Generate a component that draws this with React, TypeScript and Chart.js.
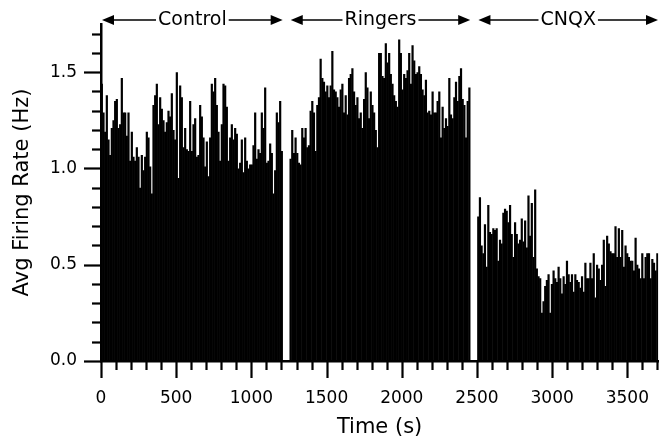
import React, { useEffect, useRef } from 'react';
import { Chart, registerables } from 'chart.js';

Chart.register(...registerables);

// Experimental phases (time in seconds)
const phaseNames = ['Control', 'Ringers', 'CNQX'];
const phaseStart = [0, 1255, 2503];
const phaseEnd = [1208, 2455, 3705];

// Average firing rate (Hz) per time bin
const controlRates = [
  1.44, 1.29, 1.19, 1.38, 1.15, 1.07, 1.21, 1.25, 1.35, 1.36, 1.21, 1.23, 1.47, 1.29, 1.29, 1.17,
  1.29, 1.04, 1.19, 1.06, 1.04, 1.11, 1.06, 0.90, 1.07, 0.99, 1.06, 1.19, 1.16, 1.01, 0.87, 1.33,
  1.38, 1.44, 1.23, 1.37, 1.31, 1.25, 1.19, 1.24, 1.30, 1.27, 1.39, 1.20, 1.15, 1.50, 0.95, 1.43,
  1.37, 1.11, 1.21, 1.10, 1.09, 1.35, 1.09, 1.23,
  1.26, 1.06, 1.07, 1.33, 1.27, 1.16, 1.01, 1.14, 0.96, 1.16, 1.44, 1.40, 1.47, 1.33, 1.19, 1.04,
  1.23, 1.44, 1.43, 1.32, 1.04, 1.16, 1.23, 1.15, 1.21, 1.18, 1.00, 1.03, 1.15, 0.98, 1.16, 1.04,
  1.00, 1.02, 1.02, 1.12, 1.29, 1.05, 1.10, 1.08, 1.29, 1.21, 1.42, 1.03, 1.04, 1.13, 1.08, 0.87,
  0.99, 1.29, 1.24, 1.35, 1.09,
];
const ringersRates = [
  1.05, 1.20, 1.08, 1.16, 1.08, 1.03, 1.02, 1.21, 1.16, 1.21, 1.11, 1.12, 1.30, 1.35, 1.29, 1.09,
  1.33, 1.37, 1.57, 1.47, 1.45, 1.40, 1.43, 1.37, 1.43, 1.61, 1.41, 1.40, 1.37, 1.32, 1.41, 1.44,
  1.29, 1.38, 1.28, 1.47, 1.49, 1.52, 1.40, 1.33, 1.37, 1.26, 1.29, 1.21, 1.36, 1.50, 1.42, 1.26,
  1.40, 1.33, 1.29, 1.20, 1.11, 1.60,
  1.60, 1.48, 1.47, 1.65, 1.55, 1.60, 1.49, 1.44, 1.38, 1.35, 1.32, 1.67, 1.60, 1.41, 1.49, 1.47,
  1.51, 1.60, 1.44, 1.64, 1.56, 1.49, 1.50, 1.53, 1.49, 1.41, 1.38, 1.46, 1.29, 1.30, 1.28, 1.40,
  1.29, 1.29, 1.35, 1.40, 1.16, 1.32, 1.21, 1.26, 1.22, 1.47, 1.28, 1.26, 1.37, 1.45, 1.35, 1.48,
  1.52, 1.36, 1.33, 1.16, 1.35, 1.42,
];
const cnqxRates = [
  0.75, 0.85, 0.60, 0.56, 0.71, 0.49, 0.81, 0.67, 0.66, 0.69, 0.68, 0.69, 0.52, 0.63, 0.61, 0.77,
  0.79, 0.78, 0.72, 0.81, 0.66, 0.54, 0.72, 0.66, 0.61, 0.63, 0.74, 0.62, 0.73, 0.59, 0.86, 0.65,
  0.82, 0.54, 0.89, 0.48, 0.44, 0.43, 0.25, 0.31, 0.39, 0.42, 0.45, 0.25, 0.40, 0.47, 0.43, 0.41,
  0.49, 0.43, 0.35, 0.44, 0.40, 0.52,
  0.45, 0.41, 0.45, 0.36, 0.45, 0.42, 0.41, 0.38, 0.44, 0.36, 0.51, 0.43, 0.43, 0.51, 0.43, 0.56,
  0.33, 0.50, 0.48, 0.42, 0.50, 0.63, 0.39, 0.65, 0.61, 0.57, 0.56, 0.56, 0.70, 0.54, 0.69, 0.54,
  0.68, 0.49, 0.60, 0.56, 0.54, 0.52, 0.52, 0.47, 0.64, 0.50, 0.48, 0.43, 0.56, 0.43, 0.54, 0.56,
  0.56, 0.43, 0.53, 0.51, 0.47, 0.56,
];
const phaseRates = [controlRates, ringersRates, cnqxRates];

// Axis ranges and tick definitions
const xRange = [0, 3705];
const xMajorTicks = [0, 500, 1000, 1500, 2000, 2500, 3000, 3500];
const xMinorTicks = [0, 100, 200, 300, 400, 500, 600, 700, 800, 900, 1000, 1100, 1200, 1300, 1400,
  1500, 1600, 1700, 1800, 1900, 2000, 2100, 2200, 2300, 2400, 2500, 2600, 2700, 2800, 2900, 3000,
  3100, 3200, 3300, 3400, 3500, 3600, 3700];
const yRange = [0, 1.75];
const yMajorTicks = [0, 0.5, 1.0, 1.5];
const yMinorTicks = [0, 0.1, 0.2, 0.3, 0.4, 0.5, 0.6, 0.7, 0.8, 0.9, 1.0, 1.1, 1.2, 1.3, 1.4, 1.5, 1.6, 1.7];

const FONT = 'DejaVu Sans';

function buildPoints() {
  const pts: { x: number; y: number }[] = [];
  phaseRates.forEach((rates, i) => {
    const w = (phaseEnd[i] - phaseStart[i]) / rates.length;
    rates.forEach((r, j) => pts.push({ x: phaseStart[i] + (j + 0.5) * w, y: r }));
  });
  return pts;
}

const isMajor = (v: number, majors: number[]) => majors.some((m) => Math.abs(m - v) < 1e-6);

const decorPlugin = {
  id: 'decor',
  afterDraw(chart: any) {
    const { ctx } = chart;
    const xs = chart.scales.x;
    const ys = chart.scales.y;
    ctx.save();
    ctx.strokeStyle = '#000';
    ctx.fillStyle = '#000';
    ctx.lineWidth = 2.2;
    // x ticks (outside, downward)
    xMinorTicks.forEach((v) => {
      const px = Math.round(xs.getPixelForValue(v)) + 0.5;
      const len = isMajor(v, xMajorTicks) ? 17 : 9;
      ctx.beginPath();
      ctx.moveTo(px, xs.top);
      ctx.lineTo(px, xs.top + len);
      ctx.stroke();
    });
    // y ticks (outside, leftward)
    yMinorTicks.forEach((v) => {
      const py = Math.round(ys.getPixelForValue(v)) + 0.5;
      const len = isMajor(v, yMajorTicks) ? 17 : 9;
      ctx.beginPath();
      ctx.moveTo(ys.right, py);
      ctx.lineTo(ys.right - len, py);
      ctx.stroke();
    });
    // phase annotations with double arrows
    const yy = 20;
    ctx.font = `19px "${FONT}"`;
    ctx.textAlign = 'center';
    ctx.textBaseline = 'middle';
    ctx.lineWidth = 1.5;
    phaseNames.forEach((name, i) => {
      const x0 = xs.getPixelForValue(phaseStart[i]) + 1;
      const x1 = Math.min(xs.getPixelForValue(phaseEnd[i]), chart.width - 1);
      const cx = (x0 + x1) / 2;
      const tw = ctx.measureText(name).width;
      ctx.fillText(name, cx, yy);
      ctx.beginPath();
      ctx.moveTo(x0 + 8, yy);
      ctx.lineTo(cx - tw / 2 - 2, yy);
      ctx.moveTo(cx + tw / 2 + 2, yy);
      ctx.lineTo(x1 - 8, yy);
      ctx.stroke();
      ctx.beginPath();
      ctx.moveTo(x0, yy);
      ctx.lineTo(x0 + 12, yy - 5);
      ctx.lineTo(x0 + 12, yy + 5);
      ctx.closePath();
      ctx.fill();
      ctx.beginPath();
      ctx.moveTo(x1, yy);
      ctx.lineTo(x1 - 12, yy - 5);
      ctx.lineTo(x1 - 12, yy + 5);
      ctx.closePath();
      ctx.fill();
    });
    ctx.restore();
  },
};

export default function App() {
  const ref = useRef<HTMLCanvasElement | null>(null);
  useEffect(() => {
    document.body.style.margin = '0';
    if (!ref.current) return;
    const chart = new Chart(ref.current, {
      type: 'bar',
      data: {
        datasets: [
          {
            label: 'Avg Firing Rate',
            data: buildPoints(),
            backgroundColor: '#000',
            borderWidth: 0,
            barThickness: 2.2,
            inflateAmount: 0,
          },
        ],
      },
      options: {
        animation: false,
        responsive: false,
        maintainAspectRatio: false,
        layout: { padding: { top: 24, left: 0, right: 0, bottom: 0 } },
        plugins: { legend: { display: false }, tooltip: { enabled: false } },
        scales: {
          x: {
            type: 'linear',
            min: xRange[0],
            max: xRange[1],
            offset: false,
            grid: { display: false, drawTicks: true, tickLength: 17 },
            border: { display: true, color: '#000', width: 2.5 },
            afterBuildTicks: (s: any) => {
              s.ticks = xMajorTicks.map((v) => ({ value: v }));
            },
            ticks: {
              autoSkip: false,
              maxRotation: 0,
              minRotation: 0,
              color: '#000',
              padding: 10,
              font: { family: FONT, size: 17 },
              callback: (v: any) => String(v),
            },
            title: {
              display: true,
              text: 'Time (s)',
              color: '#000',
              font: { family: FONT, size: 21 },
              padding: { top: 0, bottom: 3 },
            },
            afterFit: (s: any) => {
              s.height = 82;
            },
          },
          y: {
            type: 'linear',
            min: yRange[0],
            max: yRange[1],
            grid: { display: false, drawTicks: true, tickLength: 17 },
            border: { display: true, color: '#000', width: 2.5 },
            afterBuildTicks: (s: any) => {
              s.ticks = yMajorTicks.map((v) => ({ value: v }));
            },
            ticks: {
              autoSkip: false,
              color: '#000',
              padding: 7,
              font: { family: FONT, size: 17 },
              callback: (v: any) => Number(v).toFixed(1),
            },
            title: {
              display: true,
              text: 'Avg Firing Rate (Hz)',
              color: '#000',
              font: { family: FONT, size: 21 },
              padding: { top: 10, bottom: 0 },
            },
            afterFit: (s: any) => {
              s.width = 101;
            },
          },
        },
      },
      plugins: [decorPlugin],
    } as any);
    return () => chart.destroy();
  }, []);
  return <canvas ref={ref} width={659} height={443} style={{ display: 'block' }} />;
}
